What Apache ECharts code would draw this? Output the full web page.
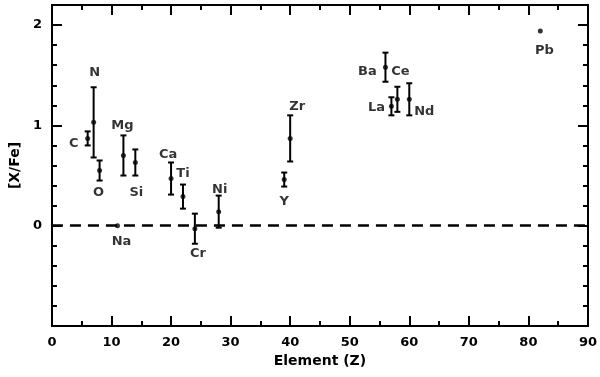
<!DOCTYPE html>
<html>
<head>
<meta charset="utf-8">
<script src="https://cdn.jsdelivr.net/npm/echarts@6/dist/echarts.min.js"></script>
<style>
    html, body { margin: 0; padding: 0; background: #fff; }
    #chart { width: 600px; height: 377px; }
</style>
</head>
<body>
<div id="chart"></div>
<script>
// abundance pattern [X/Fe] against atomic number
var elements = ['C', 'N', 'O', 'Na', 'Mg', 'Si', 'Ca', 'Ti', 'Cr', 'Ni', 'Y', 'Zr', 'Ba', 'La', 'Ce', 'Nd', 'Pb'];
var atomicNumbers = [6, 7, 8, 11, 12, 14, 20, 22, 24, 28, 39, 40, 56, 57, 58, 60, 82];
var abundances = [0.87, 1.03, 0.55, 0.00, 0.70, 0.63, 0.47, 0.29, -0.03, 0.14, 0.46, 0.87, 1.58, 1.19, 1.26, 1.26, 1.94];
var errors = [0.07, 0.35, 0.10, 0, 0.20, 0.13, 0.16, 0.12, 0.15, 0.16, 0.07, 0.23, 0.145, 0.09, 0.125, 0.16, 0];

// where each element name sits relative to its point (px)
var labelOffsets = {
    C: [-14, 5], N: [1, -50], O: [-1, 22], Na: [4, 16], Mg: [-1, -30], Si: [1, 30],
    Ca: [-3, -24], Ti: [0, -23], Cr: [3, 25], Ni: [1, -22], Y: [0, 22], Zr: [7, -32],
    Ba: [-18, 4], La: [-15, 1], Ce: [3, -28], Nd: [15, 12], Pb: [4, 20]
};

var font = 'DejaVu Sans';

var barData = [];
var pointData = [];
for (var i = 0; i < elements.length; i++) {
    if (errors[i] > 0) {
        barData.push([atomicNumbers[i], abundances[i] - errors[i], abundances[i] + errors[i]]);
    }
    pointData.push({
        name: elements[i],
        value: [atomicNumbers[i], abundances[i]],
        label: { offset: labelOffsets[elements[i]] }
    });
}

function renderBar(params, api) {
    var lo = api.coord([api.value(0), api.value(1)]);
    var hi = api.coord([api.value(0), api.value(2)]);
    var w = 3;
    var style = { stroke: '#000', lineWidth: 2 };
    return {
        type: 'group',
        children: [
            { type: 'line', shape: { x1: lo[0], y1: lo[1], x2: hi[0], y2: hi[1] }, style: style },
            { type: 'line', shape: { x1: lo[0] - w, y1: lo[1], x2: lo[0] + w, y2: lo[1] }, style: style },
            { type: 'line', shape: { x1: hi[0] - w, y1: hi[1], x2: hi[0] + w, y2: hi[1] }, style: style }
        ]
    };
}

var line = { show: true, onZero: false, lineStyle: { color: '#000', width: 2 } };

function xAx(pos, labels) {
    return {
        type: 'value', position: pos, min: 0, max: 90, interval: 10,
        axisLine: line,
        axisTick: { show: true, inside: true, length: 10, lineStyle: { color: '#000', width: 2 } },
        minorTick: { show: true, splitNumber: 2, length: 5, lineStyle: { color: '#000', width: 2 } },
        splitLine: { show: false },
        axisLabel: { show: labels, margin: 10, color: '#000', fontFamily: font, fontWeight: 'bold', fontSize: 13 },
        name: labels ? 'Element (Z)' : '',
        nameLocation: 'middle', nameGap: 25,
        nameTextStyle: { color: '#000', fontFamily: font, fontWeight: 'bold', fontSize: 14 }
    };
}

function yAx(pos, step, len, labels) {
    return {
        type: 'value', position: pos, min: -1, max: 2.2, interval: step,
        axisLine: line,
        axisTick: { show: true, inside: true, length: len, lineStyle: { color: '#000', width: 2 } },
        splitLine: { show: false },
        axisLabel: {
            show: labels, margin: 10, color: '#000', fontFamily: font, fontWeight: 'bold', fontSize: 13,
            formatter: function (v) {
                var r = Math.round(v);
                return (Math.abs(v - r) < 1e-6 && r >= 0) ? String(r) : '';
            }
        },
        name: labels ? '[X/Fe]' : '',
        nameLocation: 'middle', nameGap: 28,
        nameTextStyle: { color: '#000', fontFamily: font, fontWeight: 'bold', fontSize: 14 }
    };
}

var chart = echarts.init(document.getElementById('chart'));
chart.setOption({
    animation: false,
    backgroundColor: '#fff',
    grid: { left: 50, right: 12, top: 5, bottom: 51 },
    xAxis: [xAx('bottom', true), xAx('top', false)],
    yAxis: [yAx('left', 0.2, 5, true), yAx('left', 1, 10, false), yAx('right', 0.2, 5, false), yAx('right', 1, 10, false)],
    series: [
        {
            type: 'custom',
            renderItem: renderBar,
            data: barData,
            encode: { x: 0, y: [1, 2] },
            xAxisIndex: 0, yAxisIndex: 0,
            silent: true,
            z: 3,
            markLine: {
                silent: true,
                symbol: 'none',
                label: { show: false },
                lineStyle: { color: '#000', width: 2.5, type: [11, 7] },
                data: [{ yAxis: 0 }]
            }
        },
        {
            type: 'scatter',
            data: pointData,
            xAxisIndex: 0, yAxisIndex: 0,
            symbolSize: 5,
            itemStyle: { color: '#000' },
            label: {
                show: true, position: 'inside', formatter: '{b}',
                color: '#000', textBorderWidth: 0,
                fontFamily: font, fontWeight: 'bold', fontSize: 13
            },
            z: 4
        }
    ]
});
</script>
</body>
</html>
